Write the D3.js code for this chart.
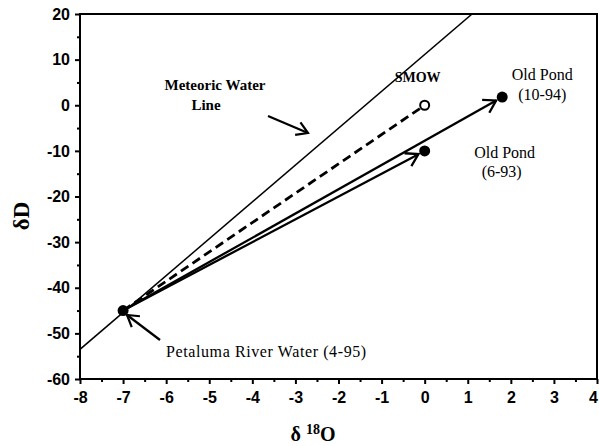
<!DOCTYPE html>
<html><head><meta charset="utf-8">
<script src="https://cdn.jsdelivr.net/npm/d3@7"></script>
<style>body{margin:0;background:#fff}svg{display:block}</style>
</head><body>
<svg id="c" width="599" height="446"></svg>
<script>
// ---- data ----
const xDomain = [-8, 4];
const yDomain = [-60, 20];
const xTicks = [-8,-7,-6,-5,-4,-3,-2,-1,0,1,2,3,4];
const yTicks = [-60,-50,-40,-30,-20,-10,0,10,20];
const meteoricLine = [[-8, -53.5], [1.1, 20]];
const river = {name: "Petaluma River Water (4-95)", x: -7, y: -45};
const smow = {name: "SMOW", x: 0, y: 0};
const ponds = [
  {name: "Old Pond", date: "(10-94)", x: 1.8, y: 1.8},
  {name: "Old Pond", date: "(6-93)", x: 0, y: -10}
];

const svg = d3.select("#c");
const x = d3.scaleLinear(xDomain, [80, 597]);
const y = d3.scaleLinear(yDomain, [379, 14]);

svg.append("defs").append("clipPath").attr("id","clip")
  .append("rect").attr("x",80).attr("y",14).attr("width",517).attr("height",365);

// frame
svg.append("rect").attr("x",80).attr("y",14).attr("width",517).attr("height",365)
  .attr("fill","none").attr("stroke","#000").attr("stroke-width",2);

const sans = "'Liberation Sans', Arial, sans-serif";
const serif = "'Liberation Serif', 'Times New Roman', serif";
function minor(a,b,s){const r=[];for(let v=a;v<=b+1e-9;v+=s)r.push(+v.toFixed(2));return r;}
const hyph = d => String(d);

const gy = svg.append("g").attr("transform","translate(80,0)");
gy.append("g").call(d3.axisLeft(y).tickValues(minor(-55,15,10)).tickSize(3).tickFormat(""));
gy.append("g").call(d3.axisLeft(y).tickValues(yTicks).tickSize(5).tickPadding(5).tickFormat(hyph));
const gx = svg.append("g").attr("transform","translate(0,379)");
gx.append("g").call(d3.axisBottom(x).tickValues(minor(-7.5,3.5,1)).tickSize(3).tickFormat(""));
const gxm = gx.append("g").call(d3.axisBottom(x).tickValues(xTicks).tickSize(5).tickPadding(8).tickFormat(hyph));
svg.selectAll(".domain").remove();
svg.selectAll(".tick line").attr("stroke","#000").attr("stroke-width",2);
svg.selectAll(".tick text").attr("font-family",sans).attr("font-weight","bold")
  .attr("font-size",16).attr("fill","#000");
gxm.selectAll(".tick text").filter(d=>d===4).attr("dx",-4);

// axis titles
svg.append("text").attr("transform","translate(29,216) rotate(-90)")
  .attr("text-anchor","middle").attr("font-family",serif).attr("font-weight","bold")
  .attr("font-size",23).text("δD");
const xt = svg.append("text").attr("x",313).attr("y",441).attr("text-anchor","middle")
  .attr("font-family",serif).attr("font-weight","bold").attr("font-size",20);
xt.append("tspan").text("δ ");
xt.append("tspan").attr("font-size",14).attr("dy",-7).text("18");
xt.append("tspan").attr("dy",7).text("O");

const plot = svg.append("g").attr("clip-path","url(#clip)");
const line = d3.line().x(d=>x(d[0])).y(d=>y(d[1]));

// meteoric water line
plot.append("path").attr("d", line(meteoricLine)).attr("stroke","#000")
  .attr("stroke-width",1.5).attr("fill","none");

function shorten(p0,p1,r){const dx=p1[0]-p0[0],dy=p1[1]-p0[1],L=Math.hypot(dx,dy);return [p1[0]-dx/L*r,p1[1]-dy/L*r];}
const r0 = [x(river.x), y(river.y)];
const sPt = [x(smow.x), y(smow.y)];
const sEnd = shorten(r0, sPt, 5);
svg.append("line").attr("x1",r0[0]).attr("y1",r0[1]).attr("x2",sEnd[0]).attr("y2",sEnd[1])
  .attr("stroke","#000").attr("stroke-width",2.8).attr("stroke-dasharray","9,5");

function arrow(p0, p1, len, w){
  svg.append("line").attr("x1",p0[0]).attr("y1",p0[1]).attr("x2",p1[0]).attr("y2",p1[1])
    .attr("stroke","#000").attr("stroke-width",w);
  const a = Math.atan2(p1[1]-p0[1], p1[0]-p0[0]);
  const h = 0.55;
  const pA = [p1[0]-len*Math.cos(a-h), p1[1]-len*Math.sin(a-h)];
  const pB = [p1[0]-len*Math.cos(a+h), p1[1]-len*Math.sin(a+h)];
  svg.append("path").attr("d",`M${pA}L${p1}L${pB}`).attr("fill","none")
    .attr("stroke","#000").attr("stroke-width",w).attr("stroke-linejoin","miter");
}
ponds.forEach(p=>{
  const pp=[x(p.x),y(p.y)];
  arrow(r0, shorten(r0,pp,7), 14, 2.3);
});

svg.append("circle").attr("cx",sPt[0]).attr("cy",sPt[1]).attr("r",4.5)
  .attr("fill","#fff").attr("stroke","#000").attr("stroke-width",2);
svg.selectAll(".pt").data([river, ...ponds]).join("circle")
  .attr("cx",d=>x(d.x)).attr("cy",d=>y(d.y)).attr("r",5.5).attr("fill","#000");

function txt(xp, yp, s, opt={}){
  return svg.append("text").attr("x",xp).attr("y",yp).attr("font-family",serif)
    .attr("font-size",opt.size||16).attr("font-weight",opt.bold?"bold":"normal")
    .attr("text-anchor",opt.anchor||"start").text(s);
}
txt(x(smow.x)-7, y(smow.y)-23, smow.name, {bold:true, anchor:"middle", size:14});
txt(x(ponds[0].x)+40, y(ponds[0].y)-17, ponds[0].name, {anchor:"middle"});
txt(x(ponds[0].x)+40, y(ponds[0].y)+3, ponds[0].date, {anchor:"middle"});
txt(x(ponds[1].x)+80, y(ponds[1].y)+7, ponds[1].name, {anchor:"middle"});
txt(x(ponds[1].x)+77, y(ponds[1].y)+26, ponds[1].date, {anchor:"middle"});
txt(215, 90, "Meteoric Water", {bold:true, anchor:"middle", size:15});
txt(206, 110, "Line", {bold:true, anchor:"middle", size:15});
arrow([268,116],[308,133],13,2.2);
txt(166, 357, river.name, {size:16}).attr("letter-spacing",0.6);
arrow([160,340],[127,315],13,2.2);
</script>
</body></html>
